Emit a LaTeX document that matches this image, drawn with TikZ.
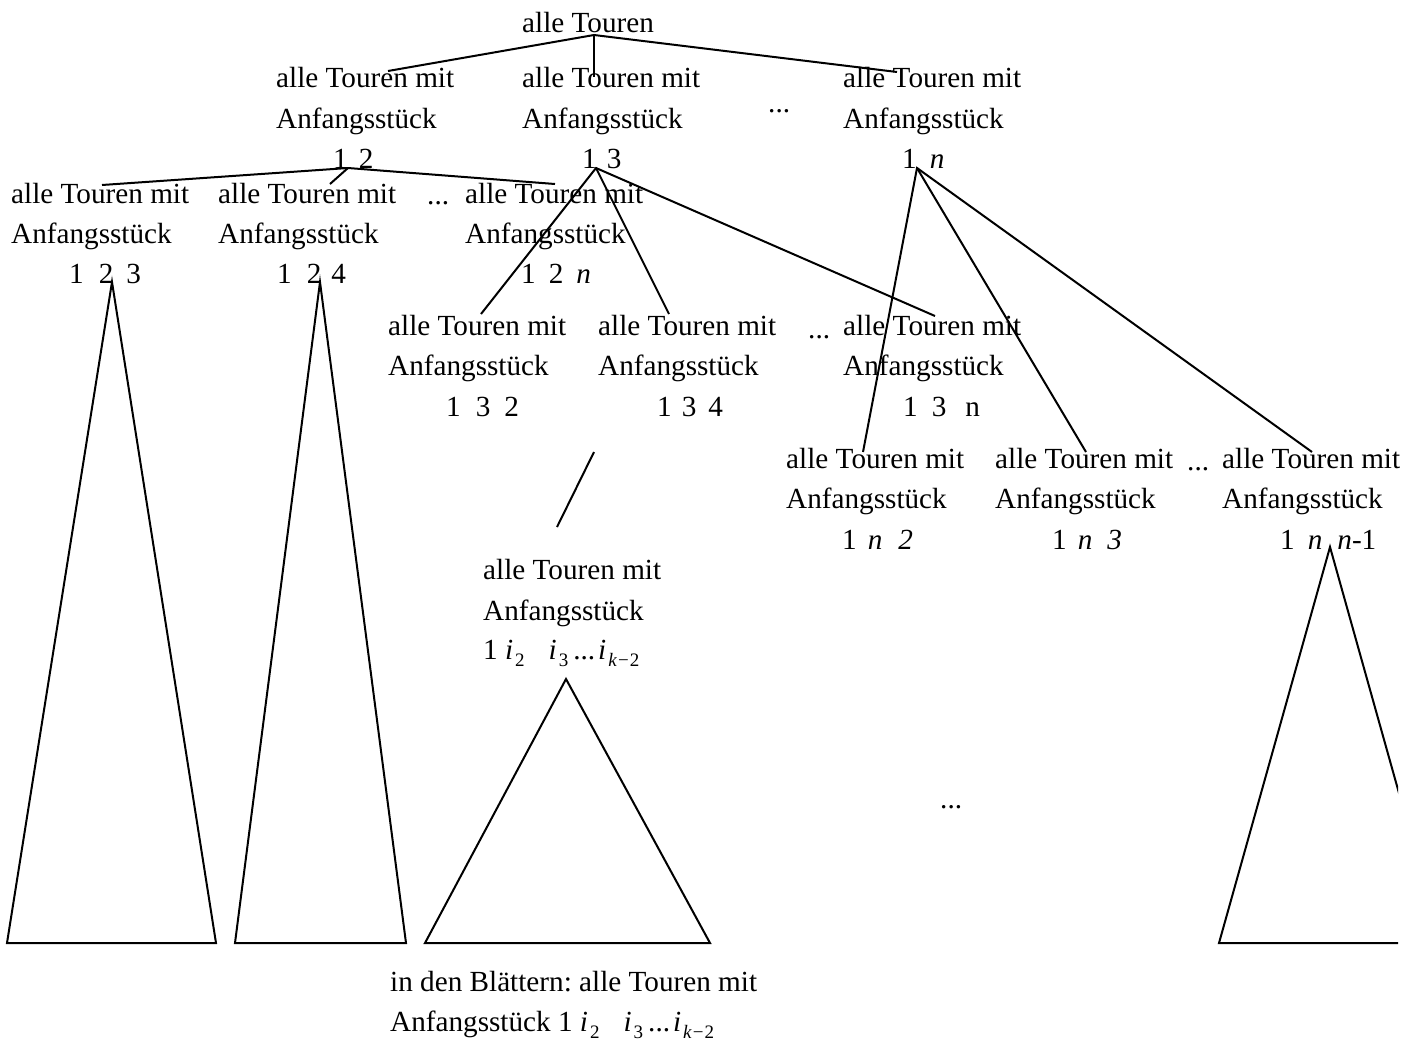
\documentclass[tikz,border=0pt]{standalone}
\usepackage{fontspec}
\setmainfont{Liberation Serif}
\frenchspacing
\newcommand\tx{\fontsize{29.2}{35}\selectfont}
% italic index with a lowered subscript
\newcommand\idx[1]{\textit{i}\kern2pt\raisebox{-7pt}{\fontsize{19}{19}\selectfont #1}}
\newcommand\seqi{1 \idx{2}\hspace{24pt}\idx{3}\kern5pt...\kern3pt\idx{\textit{k}\kern1pt−\kern1pt2}}
\begin{document}
\begin{tikzpicture}[x=1pt,y=-1pt,
  lbl/.style={anchor=base west,inner sep=0pt,font=\tx},
  edge/.style={line width=2pt},
  tri/.style={line width=2pt,line join=miter}]
\useasboundingbox (0,0) rectangle (1415,1050);

% root
\node[lbl] (root) at (522,32) {alle Touren};

% level 1
\node[lbl] (a1) at (276,87) {alle Touren mit};
\node[lbl] (a2) at (276,128) {Anfangsstück};
\node[lbl] (a3) at (333,168) {1\hspace{11pt}2};
\node[lbl] (b1) at (522,87) {alle Touren mit};
\node[lbl] (b2) at (522,128) {Anfangsstück};
\node[lbl] (b3) at (582,168) {1\hspace{10pt}3};
\node[lbl] (dots1) at (768,112) {...};
\node[lbl] (c1) at (843,87) {alle Touren mit};
\node[lbl] (c2) at (843,128) {Anfangsstück};
\node[lbl] (c3) at (902,168) {1\hspace{13pt}\textit{n}};

% level 2 (below 1 2)
\node[lbl] (aa1) at (11,203) {alle Touren mit};
\node[lbl] (aa2) at (11,243) {Anfangsstück};
\node[lbl] (aa3) at (69,283) {1\hspace{15pt}2\hspace{13pt}3};
\node[lbl] (ab1) at (218,203) {alle Touren mit};
\node[lbl] (ab2) at (218,243) {Anfangsstück};
\node[lbl] (ab3) at (277,283) {1\hspace{15pt}2\hspace{10pt}4};
\node[lbl] (dots2) at (427,204) {...};
\node[lbl] (ac1) at (465,203) {alle Touren mit};
\node[lbl] (ac2) at (465,243) {Anfangsstück};
\node[lbl] (ac3) at (521,283) {1\hspace{13pt}2\hspace{13pt}\textit{n}};

% level 2 (below 1 3)
\node[lbl] (ba1) at (388,335) {alle Touren mit};
\node[lbl] (ba2) at (388,375) {Anfangsstück};
\node[lbl] (ba3) at (446,416) {1\hspace{15pt}3\hspace{14pt}2};
\node[lbl] (bb1) at (598,335) {alle Touren mit};
\node[lbl] (bb2) at (598,375) {Anfangsstück};
\node[lbl] (bb3) at (657,416) {1\hspace{10pt}3\hspace{12pt}4};
\node[lbl] (dots3) at (808,338) {...};
\node[lbl] (bc1) at (843,335) {alle Touren mit};
\node[lbl] (bc2) at (843,375) {Anfangsstück};
\node[lbl] (bc3) at (903,416) {1\hspace{14pt}3\hspace{19pt}n};

% level 2 (below 1 n)
\node[lbl] (ca1) at (786,468) {alle Touren mit};
\node[lbl] (ca2) at (786,508) {Anfangsstück};
\node[lbl] (ca3) at (842,549) {1\hspace{11pt}\textit{n}\hspace{16pt}\textit{2}};
\node[lbl] (cb1) at (995,468) {alle Touren mit};
\node[lbl] (cb2) at (995,508) {Anfangsstück};
\node[lbl] (cb3) at (1052,549) {1\hspace{11pt}\textit{n}\hspace{15pt}\textit{3}};
\node[lbl] (dots4) at (1187,470) {...};
\node[lbl] (cc1) at (1222,468) {alle Touren mit};
\node[lbl] (cc2) at (1222,508) {Anfangsstück};
\node[lbl] (cc3) at (1280,549) {1\hspace{13pt}\textit{n}\hspace{15pt}\textit{n}-1};

% deep node
\node[lbl] (ni1) at (483,579) {alle Touren mit};
\node[lbl] (ni2) at (483,620) {Anfangsstück};
\node[lbl] (ni3) at (483,659) {\seqi};

\node[lbl] (dots5) at (940,808) {...};

% caption
\node[lbl] (cap1) at (390,991) {in den Blättern: alle Touren mit};
\node[lbl] (cap2) at (390,1031) {Anfangsstück \seqi};

% branching points and ends
\coordinate (pr) at (594,35);
\coordinate (pa) at (348,168);
\coordinate (pb) at (596,168);
\coordinate (pc) at (917,168);
\coordinate (a1-in) at (388,71);
\coordinate (b1-in) at (594,77);
\coordinate (c1-in) at (897,72);
\coordinate (aa1-in) at (102,185);
\coordinate (ab1-in) at (330,184);
\coordinate (ac1-in) at (555,184);
\coordinate (ba1-in) at (481,314);
\coordinate (bb1-in) at (669,314);
\coordinate (bc1-in) at (935,316);
\coordinate (ca1-in) at (863,452);
\coordinate (cb1-in) at (1086,452);
\coordinate (cc1-in) at (1312,452);
\coordinate (gap-top) at (594,452);
\coordinate (gap-bot) at (557,527);

\draw[edge] (a1-in) -- (pr) -- (c1-in);
\draw[edge] (pr) -- (b1-in);
\draw[edge] (aa1-in) -- (pa) -- (ac1-in);
\draw[edge] (pa) -- (ab1-in);
\draw[edge] (ba1-in) -- (pb) -- (bc1-in);
\draw[edge] (pb) -- (bb1-in);
\draw[edge] (ca1-in) -- (pc) -- (cc1-in);
\draw[edge] (pc) -- (cb1-in);
\draw[edge] (gap-top) -- (gap-bot);

% subtrees
\draw[tri] (112,282) -- (216,943) -- (7,943) -- cycle;
\draw[tri] (320,282) -- (406,943) -- (235,943) -- cycle;
\draw[tri] (566,679) -- (710,943) -- (425,943) -- cycle;
\begin{scope}
  \clip (1150,500) rectangle (1398,960);
  \draw[tri] (1330,547) -- (1441,943) -- (1219,943) -- cycle;
\end{scope}
\end{tikzpicture}
\end{document}
